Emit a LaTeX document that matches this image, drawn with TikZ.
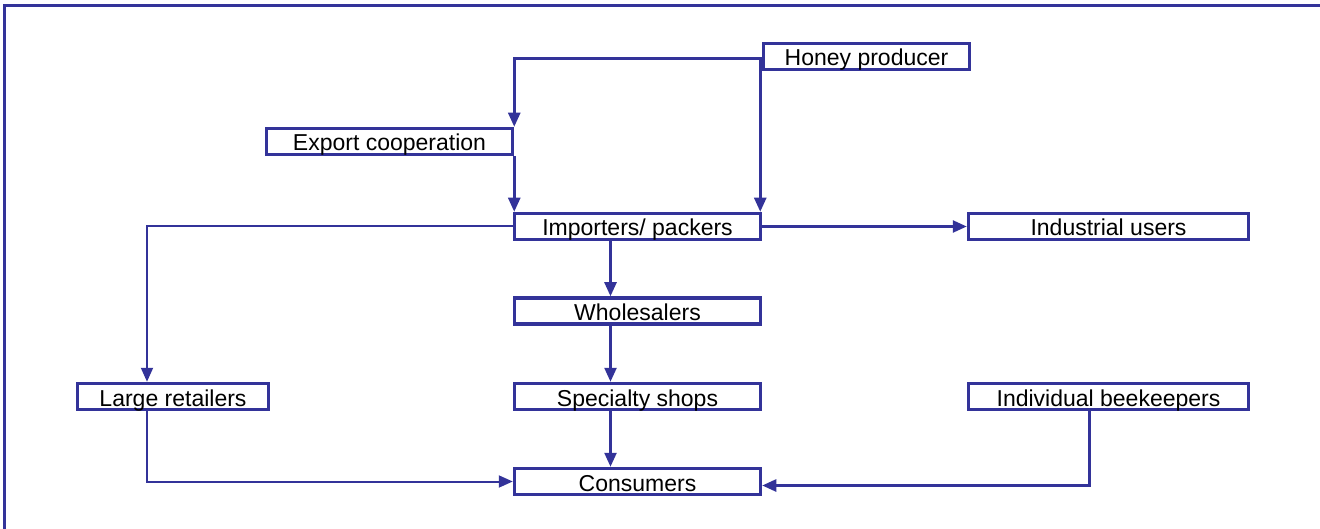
\documentclass[tikz,border=0pt]{standalone}
\usepackage{fontspec}
\setmainfont{Liberation Sans}
\usetikzlibrary{arrows.meta}
\definecolor{chainblue}{RGB}{51,51,153}
\tikzset{stage/.style={draw=chainblue, line width=3.5pt, fill=white, minimum height=26pt, inner sep=0pt, text height=19pt, text depth=0pt, font=\fontsize{23}{26}\selectfont},
flow/.style={draw=chainblue, line width=2.5pt, -{Triangle[length=14pt,width=12pt]}},
link/.style={draw=chainblue, line width=2.5pt}}

\begin{document}
\begin{tikzpicture}[x=1pt,y=-1pt]
\useasboundingbox (0,0) rectangle (1320,529);
\draw[chainblue, line width=3pt] (4.5,5.5) rectangle (1340,545);

\node[stage, minimum width=206pt] (honey) at (866.5,56.5) {Honey producer};
\node[stage, minimum width=246pt] (export) at (389.5,141.5) {Export cooperation};
\node[stage, minimum width=246pt] (importers) at (637.5,226.5) {Importers/ packers};
\node[stage, minimum width=280pt] (industrial) at (1108.5,226.5) {Industrial users};
\node[stage, minimum width=246pt] (wholesale) at (637.5,311) {Wholesalers};
\node[stage, minimum width=191pt] (large) at (173,396.5) {Large retailers};
\node[stage, minimum width=246pt] (specialty) at (637.5,396.5) {Specialty shops};
\node[stage, minimum width=280pt] (beekeep) at (1108.5,396.5) {Individual beekeepers};
\node[stage, minimum width=246pt] (consumers) at (637.5,481.5) {Consumers};

% from the producer
\draw[flow] ([yshift=-2pt]honey.west) -| (export.north east);
\draw[flow] ([yshift=-2pt]honey.west) -| ([xshift=-2pt]importers.north east);
\draw[flow] (export.south east) -- (export.south east |- importers.north);

% from the importers
\draw[flow, line width=2pt] (importers.west) -| ([xshift=-26pt]large.north);
\draw[flow] (importers.east) -- (industrial.west);
\draw[flow] ([xshift=-27pt]importers.south) -- ([xshift=-27pt]wholesale.north);
\draw[flow] ([xshift=-27pt]wholesale.south) -- ([xshift=-27pt]specialty.north);
\draw[flow] ([xshift=-27pt]specialty.south) -- ([xshift=-27pt]consumers.north);

% to the consumers
\draw[flow, line width=2pt] ([xshift=-26pt]large.south) |- (consumers.west);
\draw[flow] ([xshift=-19pt]beekeep.south) |- ([yshift=-4pt]consumers.east);
\end{tikzpicture}
\end{document}
